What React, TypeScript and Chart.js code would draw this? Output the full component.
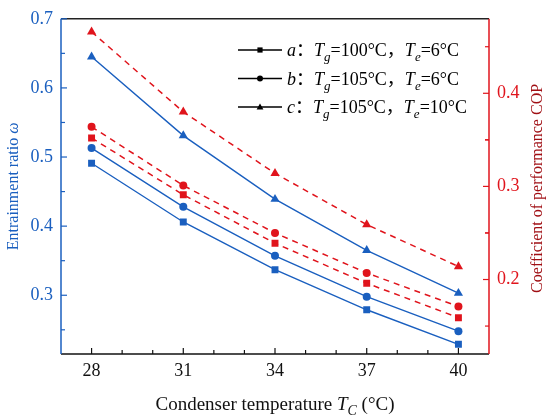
import { useEffect, useRef } from 'react'
import { Chart, registerables } from 'chart.js'
Chart.register(...registerables)

// condenser temperature (°C)
const temps = [28, 31, 34, 37, 40]
// entrainment ratio ω
const omegaA = [0.491, 0.406, 0.337, 0.279, 0.229]
const omegaB = [0.513, 0.428, 0.357, 0.298, 0.248]
const omegaC = [0.645, 0.531, 0.439, 0.365, 0.303]
// COP
const copA = [0.352, 0.291, 0.239, 0.196, 0.159]
const copB = [0.364, 0.301, 0.25, 0.207, 0.171]
const copC = [0.466, 0.38, 0.314, 0.259, 0.214]

const leftTicks = [0.3, 0.4, 0.5, 0.6, 0.7]
const rightTicks = [0.2, 0.3, 0.4]

const BLUE = '#1a5fbf'
const RED = '#e0141c'
const DARKRED = '#a00f14'
const SERIF = '"Liberation Serif", "Times New Roman", "Noto Sans CJK SC", serif'

type Seg = { t: string, i?: boolean, sub?: boolean }

const legendRows: { style: string, segs: Seg[] }[] = [
  { style: 'rect', segs: [{ t: 'a', i: true }, { t: '：' }, { t: 'T', i: true }, { t: 'g', i: true, sub: true }, { t: '=100°C，' }, { t: 'T', i: true }, { t: 'e', i: true, sub: true }, { t: '=6°C' }] },
  { style: 'circle', segs: [{ t: 'b', i: true }, { t: '：' }, { t: 'T', i: true }, { t: 'g', i: true, sub: true }, { t: '=105°C，' }, { t: 'T', i: true }, { t: 'e', i: true, sub: true }, { t: '=6°C' }] },
  { style: 'triangle', segs: [{ t: 'c', i: true }, { t: '：' }, { t: 'T', i: true }, { t: 'g', i: true, sub: true }, { t: '=105°C，' }, { t: 'T', i: true }, { t: 'e', i: true, sub: true }, { t: '=10°C' }] },
]

function segFont(s: Seg, size: number) {
  return `${s.i ? 'italic ' : ''}${s.sub ? Math.round(size * 0.72) : size}px ${SERIF}`
}

function drawRich(ctx: CanvasRenderingContext2D, segs: Seg[], x: number, y: number, size: number, center: boolean) {
  let w = 0
  for (const s of segs) { ctx.font = segFont(s, size); w += ctx.measureText(s.t).width }
  let cx = center ? x - w / 2 : x
  ctx.textAlign = 'left'
  ctx.textBaseline = 'alphabetic'
  for (const s of segs) {
    ctx.font = segFont(s, size)
    ctx.fillText(s.t, cx, y + (s.sub ? size * 0.28 : 0))
    cx += ctx.measureText(s.t).width
  }
}

function marker(ctx: CanvasRenderingContext2D, style: string, x: number, y: number, r: number) {
  ctx.beginPath()
  if (style === 'rect') ctx.rect(x - r, y - r, 2 * r, 2 * r)
  else if (style === 'circle') ctx.arc(x, y, r + 0.4, 0, Math.PI * 2)
  else { ctx.moveTo(x, y - r - 1); ctx.lineTo(x + r + 0.8, y + r - 0.2); ctx.lineTo(x - r - 0.8, y + r - 0.2); ctx.closePath() }
  ctx.fill()
}

const decor = {
  id: 'decor',
  afterDraw(chart: any) {
    const { ctx, chartArea: a, scales } = chart
    const x = scales.x, y = scales.y, y1 = scales.y1
    ctx.save()
    ctx.lineWidth = 1.5
    // frame
    ctx.strokeStyle = '#222'
    ctx.beginPath(); ctx.moveTo(a.left, a.top); ctx.lineTo(a.right, a.top); ctx.stroke()
    ctx.strokeStyle = '#111'
    ctx.beginPath(); ctx.moveTo(a.left, a.bottom); ctx.lineTo(a.right, a.bottom); ctx.stroke()
    ctx.strokeStyle = BLUE
    ctx.beginPath(); ctx.moveTo(a.left, a.top); ctx.lineTo(a.left, a.bottom); ctx.stroke()
    ctx.strokeStyle = RED
    ctx.beginPath(); ctx.moveTo(a.right, a.top); ctx.lineTo(a.right, a.bottom); ctx.stroke()

    ctx.lineWidth = 1.2
    // x ticks, inward
    ctx.strokeStyle = '#111'
    for (let v = temps[0]; v <= temps[temps.length - 1]; v++) {
      const px = x.getPixelForValue(v)
      const len = temps.includes(v) ? 6 : 4
      ctx.beginPath(); ctx.moveTo(px, a.bottom); ctx.lineTo(px, a.bottom - len); ctx.stroke()
    }
    // left ticks
    ctx.strokeStyle = BLUE
    for (const v of leftTicks) {
      const py = y.getPixelForValue(v)
      ctx.beginPath(); ctx.moveTo(a.left, py); ctx.lineTo(a.left + 6, py); ctx.stroke()
      const pm = y.getPixelForValue(v - 0.05)
      if (pm < a.bottom) { ctx.beginPath(); ctx.moveTo(a.left, pm); ctx.lineTo(a.left + 4, pm); ctx.stroke() }
    }
    // right ticks
    ctx.strokeStyle = RED
    for (const v of rightTicks) {
      const py = y1.getPixelForValue(v)
      ctx.beginPath(); ctx.moveTo(a.right, py); ctx.lineTo(a.right - 6, py); ctx.stroke()
      for (const m of [v - 0.05, v + 0.05]) {
        const pm = y1.getPixelForValue(m)
        ctx.beginPath(); ctx.moveTo(a.right, pm); ctx.lineTo(a.right - 4, pm); ctx.stroke()
      }
    }

    // axis titles
    ctx.fillStyle = '#111'
    drawRich(ctx, [{ t: 'Condenser temperature ' }, { t: 'T', i: true }, { t: 'C', i: true, sub: true }, { t: ' (°C)' }], (a.left + a.right) / 2, 410, 19, true)
    ctx.save()
    ctx.translate(18, (a.top + a.bottom) / 2)
    ctx.rotate(-Math.PI / 2)
    ctx.fillStyle = BLUE
    drawRich(ctx, [{ t: 'Entrainment ratio ' }, { t: 'ω', i: true }], 0, 0, 16, true)
    ctx.restore()
    ctx.save()
    ctx.translate(542, (a.top + a.bottom) / 2 + 2)
    ctx.rotate(-Math.PI / 2)
    ctx.fillStyle = DARKRED
    drawRich(ctx, [{ t: 'Coefficient of performance COP' }], 0, 0, 16, true)
    ctx.restore()

    // legend
    legendRows.forEach((row, i) => {
      const ry = 50 + i * 28.5
      ctx.strokeStyle = '#000'
      ctx.lineWidth = 1.3
      ctx.beginPath(); ctx.moveTo(238, ry); ctx.lineTo(282, ry); ctx.stroke()
      ctx.fillStyle = '#000'
      marker(ctx, row.style, 260, ry, 2.6)
      drawRich(ctx, row.segs, 287, ry + 6, 18, false)
    })
    ctx.restore()
  }
}

function series(vals: number[]) {
  return temps.map((t, i) => ({ x: t, y: vals[i] }))
}

export default function App() {
  const ref = useRef<HTMLCanvasElement | null>(null)
  useEffect(() => {
    document.body.style.margin = '0'
    if (!ref.current) return
    const solid = (label: string, vals: number[], style: string, r: number) => ({
      label, data: series(vals), yAxisID: 'y', borderColor: BLUE, backgroundColor: BLUE,
      borderWidth: 1.4, pointStyle: style, pointRadius: r, pointBorderWidth: 0, pointBackgroundColor: BLUE,
    })
    const dashed = (label: string, vals: number[], style: string, r: number) => ({
      label, data: series(vals), yAxisID: 'y1', borderColor: RED, backgroundColor: RED,
      borderWidth: 1.5, borderDash: [6, 5], pointStyle: style, pointRadius: r, pointBorderWidth: 0, pointBackgroundColor: RED,
    })
    const tickFont = { family: SERIF, size: 18 }
    const chart = new Chart(ref.current, {
      type: 'line',
      data: {
        datasets: [
          solid('ω a', omegaA, 'rect', 4.9),
          solid('ω b', omegaB, 'circle', 4),
          solid('ω c', omegaC, 'triangle', 5.3),
          dashed('COP a', copA, 'rect', 4.9),
          dashed('COP b', copB, 'circle', 4),
          dashed('COP c', copC, 'triangle', 5.3),
        ] as any,
      },
      options: {
        animation: false,
        responsive: false,
        layout: { padding: { top: 12, left: 0, right: 0, bottom: 0 } },
        plugins: { legend: { display: false }, tooltip: { enabled: false } },
        scales: {
          x: {
            type: 'linear', min: 27, max: 41,
            grid: { display: false, drawTicks: false }, border: { display: false },
            ticks: { font: tickFont, color: '#111', padding: 6 },
            afterBuildTicks: (s: any) => { s.ticks = temps.map(v => ({ value: v })) },
            afterFit: (s: any) => { s.height = 65 },
          },
          y: {
            type: 'linear', position: 'left', min: 0.215, max: 0.7,
            grid: { display: false, drawTicks: false }, border: { display: false },
            ticks: { font: tickFont, color: BLUE, padding: 8, callback: (v: any) => Number(v).toFixed(1) },
            afterBuildTicks: (s: any) => { s.ticks = leftTicks.map(v => ({ value: v })) },
            afterFit: (s: any) => { s.width = 61 },
          },
          y1: {
            type: 'linear', position: 'right', min: 0.12, max: 0.48,
            grid: { display: false, drawTicks: false }, border: { display: false },
            ticks: { font: tickFont, color: RED, padding: 8, callback: (v: any) => Number(v).toFixed(1) },
            afterBuildTicks: (s: any) => { s.ticks = rightTicks.map(v => ({ value: v })) },
            afterFit: (s: any) => { s.width = 61 },
          },
        },
      } as any,
      plugins: [decor],
    })
    return () => chart.destroy()
  }, [])
  return <canvas ref={ref} width={550} height={419} />
}
